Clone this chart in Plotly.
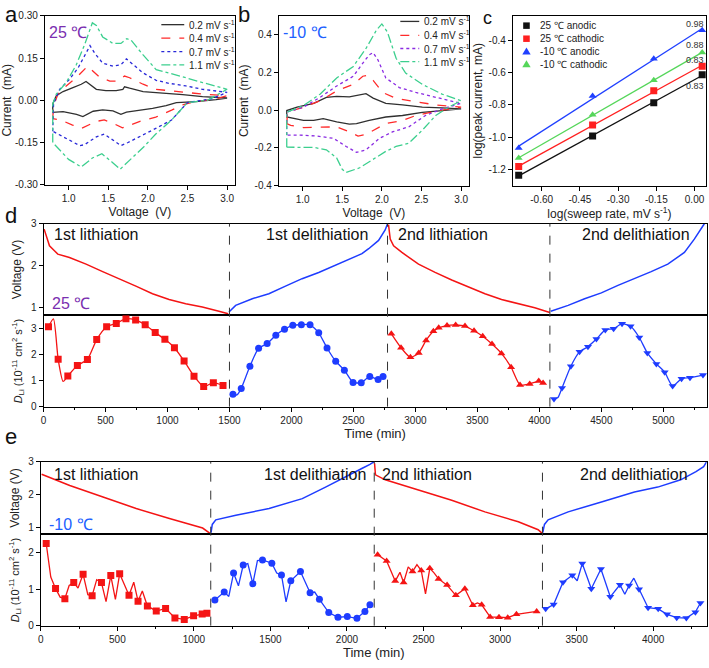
import numpy as np
import plotly.graph_objects as go

W, H = 709, 668
FONT = "Arial, 'Liberation Sans', sans-serif"

# ---------------- Panel a : CV at 25 C ----------------
a_V_02 = [0.80, 0.80, 0.845, 0.93, 1.055, 1.16, 1.22, 1.27, 1.35, 1.47, 1.60, 1.685, 1.706, 1.77, 1.94, 2.105, 2.27, 2.44, 2.69, 3.0,
          2.86, 2.61, 2.36, 2.23, 2.06, 1.85, 1.73, 1.66, 1.56, 1.43, 1.31, 1.18, 1.10, 0.93, 0.80, 0.80]
a_I_02 = [-0.036, -0.013, 0.016, 0.031, 0.045, 0.057, 0.067, 0.057, 0.039, 0.034, 0.034, 0.039, 0.048, 0.043, 0.031, 0.027, 0.024, 0.020, 0.013, 0.008,
          0.002, -0.005, -0.008, -0.019, -0.029, -0.038, -0.042, -0.050, -0.038, -0.034, -0.039, -0.058, -0.050, -0.040, -0.043, -0.036]
a_V_04 = [0.80, 0.81, 0.866, 0.97, 1.097, 1.20, 1.24, 1.286, 1.39, 1.52, 1.62, 1.706, 1.77, 1.94, 2.105, 2.27, 2.48, 2.69, 3.0,
          2.86, 2.60, 2.45, 2.30, 2.10, 1.90, 1.75, 1.68, 1.55, 1.45, 1.35, 1.22, 1.16, 1.05, 0.90, 0.80, 0.80]
a_I_04 = [-0.065, -0.019, 0.022, 0.051, 0.080, 0.109, 0.121, 0.109, 0.082, 0.068, 0.068, 0.086, 0.080, 0.057, 0.039, 0.034, 0.028, 0.022, 0.016,
          0.005, -0.005, -0.015, -0.035, -0.060, -0.075, -0.090, -0.098, -0.080, -0.070, -0.075, -0.094, -0.100, -0.088, -0.070, -0.065, -0.065]
a_V_07 = [0.80, 0.81, 0.887, 1.01, 1.12, 1.20, 1.27, 1.33, 1.43, 1.56, 1.66, 1.73, 1.79, 1.94, 2.105, 2.27, 2.48, 2.69, 3.0,
          2.80, 2.50, 2.30, 2.10, 1.90, 1.75, 1.66, 1.55, 1.45, 1.35, 1.20, 1.14, 1.00, 0.80, 0.80]
a_I_07 = [-0.110, -0.013, 0.039, 0.074, 0.115, 0.155, 0.194, 0.167, 0.132, 0.121, 0.126, 0.147, 0.132, 0.097, 0.071, 0.060, 0.051, 0.039, 0.028,
          0.005, -0.008, -0.070, -0.100, -0.130, -0.150, -0.161, -0.140, -0.120, -0.130, -0.158, -0.161, -0.140, -0.110, -0.110]
a_V_11 = [0.80, 0.80, 0.845, 0.97, 1.097, 1.20, 1.30, 1.35, 1.43, 1.56, 1.66, 1.735, 1.79, 1.94, 2.105, 2.27, 2.48, 2.69, 3.0,
          2.75, 2.50, 2.30, 2.10, 1.95, 1.80, 1.65, 1.55, 1.42, 1.30, 1.16, 1.00, 0.80, 0.80]
a_I_11 = [-0.150, -0.013, 0.022, 0.063, 0.126, 0.196, 0.275, 0.266, 0.225, 0.202, 0.202, 0.219, 0.213, 0.161, 0.109, 0.097, 0.080, 0.063, 0.039,
          0.000, -0.008, -0.070, -0.120, -0.165, -0.205, -0.245, -0.220, -0.190, -0.205, -0.237, -0.210, -0.150, -0.150]

# ---------------- Panel b : CV at -10 C ----------------
b_V_02 = [0.80, 0.80, 0.93, 1.14, 1.30, 1.43, 1.59, 1.72, 1.80, 1.89, 2.05, 2.26, 2.51, 2.76, 3.0,
          2.76, 2.51, 2.26, 2.05, 1.84, 1.68, 1.59, 1.43, 1.26, 1.14, 1.01, 0.89, 0.80, 0.80]
b_I_02 = [-0.019, -0.002, 0.016, 0.036, 0.068, 0.073, 0.071, 0.081, 0.088, 0.064, 0.036, 0.028, 0.016, 0.012, 0.007,
          -0.002, -0.012, -0.028, -0.036, -0.054, -0.071, -0.074, -0.062, -0.045, -0.054, -0.054, -0.045, -0.036, -0.019]
b_V_04 = [0.80, 0.81, 1.01, 1.22, 1.43, 1.64, 1.76, 1.82, 1.89, 2.01, 2.18, 2.38, 2.68, 3.0,
          2.68, 2.43, 2.26, 2.05, 1.93, 1.80, 1.70, 1.59, 1.43, 1.22, 1.01, 0.85, 0.80]
b_I_04 = [-0.071, -0.010, 0.016, 0.050, 0.102, 0.137, 0.180, 0.185, 0.158, 0.094, 0.062, 0.050, 0.028, 0.016,
          -0.005, -0.028, -0.054, -0.071, -0.097, -0.128, -0.137, -0.114, -0.088, -0.092, -0.092, -0.080, -0.071]
b_V_07 = [0.80, 0.80, 1.01, 1.22, 1.43, 1.64, 1.76, 1.84, 1.89, 1.95, 2.05, 2.22, 2.43, 2.68, 3.0,
          2.76, 2.55, 2.34, 2.14, 1.97, 1.80, 1.68, 1.55, 1.39, 1.18, 0.97, 0.80]
b_I_07 = [-0.132, -0.010, 0.016, 0.068, 0.128, 0.180, 0.249, 0.293, 0.305, 0.267, 0.171, 0.120, 0.094, 0.068, 0.036,
          0.007, -0.028, -0.088, -0.114, -0.149, -0.210, -0.223, -0.192, -0.149, -0.137, -0.132, -0.132]
b_V_11 = [0.80, 0.80, 1.01, 1.22, 1.43, 1.64, 1.80, 1.93, 2.00, 2.07, 2.18, 2.30, 2.51, 2.76, 3.0,
          2.84, 2.68, 2.51, 2.34, 2.18, 2.05, 1.89, 1.72, 1.55, 1.50, 1.43, 1.30, 1.14, 0.80]
b_I_11 = [-0.196, -0.010, 0.024, 0.085, 0.171, 0.232, 0.327, 0.423, 0.457, 0.414, 0.275, 0.197, 0.137, 0.085, 0.050,
          0.016, -0.028, -0.106, -0.175, -0.192, -0.218, -0.262, -0.305, -0.330, -0.313, -0.253, -0.210, -0.197, -0.196]

cv_names = ["0.2 mV s<sup>-1</sup>", "0.4 mV s<sup>-1</sup>", "0.7 mV s<sup>-1</sup>", "1.1 mV s<sup>-1</sup>"]

# ---------------- Panel c : log(peak current) vs log(sweep rate) ----------------
c_logv = [-0.69, -0.40, -0.16, 0.03]
c_25_anodic = [-1.236, -0.992, -0.788, -0.614]
c_25_cathodic = [-1.182, -0.925, -0.713, -0.562]
c_m10_anodic = [-1.067, -0.745, -0.515, -0.339]
c_m10_cathodic = [-1.129, -0.861, -0.648, -0.477]
c_names = ["25 \u2103 anodic", "25 \u2103 cathodic", "-10 \u2103 anodic", "-10 \u2103 cathodic"]
c_bvalues = ["0.83", "0.83", "0.98", "0.88"]

# ---------------- Panel d : GITT at 25 C ----------------
d_V_lith1_t = [5, 30, 48, 88, 115, 209, 343, 477, 611, 745, 879, 1013, 1147, 1281, 1415, 1490]
d_V_lith1 = [2.87, 2.63, 2.47, 2.35, 2.27, 2.19, 2.03, 1.85, 1.68, 1.50, 1.32, 1.18, 1.08, 1.00, 0.90, 0.84]
d_V_delith1_t = [1496, 1550, 1684, 1818, 1952, 2086, 2220, 2354, 2488, 2569, 2623, 2703, 2756, 2775]
d_V_delith1 = [0.88, 1.04, 1.20, 1.32, 1.50, 1.68, 1.83, 2.00, 2.17, 2.28, 2.40, 2.60, 2.85, 3.0]
d_V_lith2_t = [2783, 2797, 2824, 2891, 3025, 3159, 3293, 3427, 3561, 3695, 3830, 3963, 4084]
d_V_lith2 = [2.98, 2.63, 2.47, 2.31, 2.03, 1.83, 1.65, 1.48, 1.32, 1.18, 1.08, 0.98, 0.87]
d_V_delith2_t = [4092, 4232, 4365, 4500, 4634, 4768, 4902, 5036, 5170, 5250, 5304, 5331]
d_V_delith2 = [0.90, 1.04, 1.20, 1.34, 1.52, 1.68, 1.85, 2.03, 2.31, 2.63, 2.87, 3.0]

d_D_lith1_t = [40, 80, 118, 158, 196, 273, 354, 429, 509, 587, 665, 743, 820, 901, 979, 1056, 1134, 1214, 1292, 1370, 1448]
d_D_lith1 = [3.06, 3.36, 1.82, 0.97, 1.18, 1.58, 1.81, 2.57, 3.06, 3.19, 3.37, 3.32, 3.14, 2.84, 2.58, 2.26, 1.75, 1.17, 0.77, 0.92, 0.81]
d_D_lith1_mark = [1, 0, 1, 0, 1, 1, 1, 1, 1, 1, 1, 1, 1, 1, 1, 1, 1, 1, 1, 1, 1]
d_D_delith1_t = [1528, 1560, 1595, 1665, 1735, 1804, 1874, 1944, 2011, 2080, 2150, 2220, 2287, 2357, 2427, 2497, 2563, 2632, 2699, 2739]
d_D_delith1 = [0.48, 0.45, 0.70, 1.55, 2.24, 2.42, 2.74, 2.97, 3.12, 3.14, 3.14, 2.83, 2.25, 1.74, 1.40, 0.93, 0.92, 1.16, 1.04, 1.16]
d_D_delith1_mark = [1, 0, 1, 1, 1, 1, 1, 1, 1, 1, 1, 1, 1, 1, 1, 1, 1, 1, 1, 1]
d_D_lith2_t = [2806, 2884, 2960, 3027, 3086, 3145, 3188, 3255, 3325, 3400, 3473, 3543, 3618, 3694, 3772, 3844, 3922, 3995, 4030]
d_D_lith2 = [2.79, 2.26, 1.89, 2.06, 2.54, 2.89, 3.02, 3.11, 3.13, 3.09, 2.91, 2.70, 2.40, 2.04, 1.51, 0.83, 0.87, 0.98, 0.91]
d_D_lith2_mark = [1] * 19
d_D_delith2_t = [4118, 4150, 4183, 4254, 4324, 4392, 4460, 4532, 4599, 4667, 4736, 4806, 4871, 4944, 5011, 5075, 5147, 5215, 5320]
d_D_delith2 = [0.29, 0.35, 0.72, 1.55, 2.10, 2.30, 2.59, 2.94, 2.99, 3.18, 3.08, 2.65, 2.06, 1.64, 1.32, 0.79, 1.07, 1.11, 1.21]
d_D_delith2_mark = [1, 0, 1, 1, 1, 1, 1, 1, 1, 1, 1, 1, 1, 1, 1, 1, 1, 1, 1]
d_bounds = [1500, 2775, 4085]

# ---------------- Panel e : GITT at -10 C ----------------
e_V_lith1_t = [5, 189, 406, 623, 840, 948, 1057, 1105]
e_V_lith1 = [2.62, 2.28, 1.93, 1.58, 1.28, 1.13, 0.99, 0.83]
e_V_delith1_t = [1112, 1120, 1143, 1274, 1491, 1708, 1860, 2000, 2100, 2150, 2178]
e_V_delith1 = [0.85, 1.10, 1.24, 1.38, 1.58, 1.88, 2.23, 2.55, 2.80, 2.92, 3.0]
e_V_lith2_t = [2180, 2186, 2250, 2300, 2403, 2684, 2901, 3119, 3249, 3275]
e_V_lith2 = [2.95, 2.60, 2.45, 2.38, 2.23, 1.83, 1.48, 1.18, 0.94, 0.83]
e_V_delith2_t = [3279, 3290, 3314, 3445, 3662, 3878, 4030, 4180, 4280, 4330, 4350]
e_V_delith2 = [0.85, 1.10, 1.24, 1.48, 1.78, 2.08, 2.23, 2.45, 2.70, 2.85, 3.0]

e_D_lith1_t = [35, 65, 96, 126, 157, 185, 215, 243, 276, 307, 335, 365, 396, 426, 457, 487, 515, 576, 607, 635,
               663, 696, 754, 815, 876, 937, 998, 1054, 1085]
e_D_lith1 = [2.25, 1.33, 1.02, 0.78, 0.74, 1.10, 1.18, 1.03, 1.41, 0.85, 0.82, 1.26, 1.18, 0.66, 1.37, 0.72, 1.42, 0.83, 1.19, 0.67,
             0.95, 0.54, 0.40, 0.47, 0.21, 0.17, 0.27, 0.32, 0.34]
e_D_lith1_mark = [1, 0, 1, 0, 1, 0, 1, 0, 1, 0, 1, 0, 1, 0, 1, 0, 1, 1, 0, 1, 0, 1, 1, 1, 1, 1, 1, 1, 1]
e_D_delith1_t = [1137, 1198, 1228, 1259, 1291, 1322, 1352, 1385, 1415, 1448, 1509, 1541, 1572, 1602, 1633, 1696, 1759, 1789, 1820, 1881,
                 1941, 2002, 2065, 2117, 2150]
e_D_delith1 = [0.70, 0.92, 0.80, 1.44, 1.09, 1.66, 1.70, 1.15, 1.78, 1.80, 1.71, 1.44, 1.39, 0.65, 1.23, 1.48, 0.90, 0.92, 0.72, 0.36,
               0.23, 0.25, 0.20, 0.39, 0.57]
e_D_delith1_mark = [1, 1, 0, 1, 0, 1, 0, 1, 0, 1, 1, 0, 1, 0, 1, 1, 1, 0, 1, 1, 1, 1, 1, 1, 1]
e_D_lith2_t = [2200, 2259, 2315, 2346, 2370, 2400, 2428, 2457, 2485, 2513, 2541, 2570, 2598, 2654, 2711, 2770, 2822, 2852, 2880, 2935,
               2993, 3050, 3107, 3239]
e_D_lith2 = [1.94, 1.77, 1.22, 1.46, 1.18, 1.61, 1.48, 1.67, 1.51, 0.87, 1.57, 1.44, 1.28, 1.11, 0.83, 1.01, 0.56, 0.62, 0.57, 0.24,
             0.23, 0.22, 0.31, 0.39]
e_D_lith2_mark = [1, 1, 1, 0, 1, 0, 1, 0, 1, 0, 1, 0, 1, 1, 1, 1, 1, 0, 1, 1, 1, 1, 1, 1]
e_D_delith2_t = [3298, 3350, 3411, 3472, 3504, 3537, 3596, 3659, 3720, 3783, 3815, 3843, 3874, 3908, 3967, 4033, 4091, 4154, 4217, 4276, 4309]
e_D_delith2 = [0.46, 0.58, 1.19, 1.38, 1.23, 1.70, 1.01, 1.55, 0.79, 1.12, 0.86, 1.10, 1.30, 1.00, 0.49, 0.46, 0.31, 0.22, 0.21, 0.37, 0.62]
e_D_delith2_mark = [1, 1, 1, 1, 0, 1, 1, 1, 1, 1, 0, 1, 0, 1, 1, 1, 1, 1, 1, 1, 1]
e_bounds = [1110, 2178, 3277]

# ---------------- styling ----------------
RED = "#f41414"
BLUE = "#1e3cff"
BLACK = "#303030"
PURPLE_T = "#7a2fb0"
CV_A_COLORS = [BLACK, "#ff2a2a", "#2828d8", "#3ccf8e"]
CV_B_COLORS = [BLACK, "#ff2a2a", "#8a2be2", "#3ccf8e"]
CV_DASH = ["solid", "dash", "dot", "dashdot"]
C_COLORS = ["#111111", "#ff2020", "#2040ff", "#55d65a"]
C_SYMBOLS = ["square", "square", "triangle-up", "triangle-up"]


def xdom(x0, x1):
    return [x0 / W, x1 / W]


def ydom(y0, y1):
    return [1 - y1 / H, 1 - y0 / H]


fig = go.Figure()

for V, I, col, dash in zip([a_V_02, a_V_04, a_V_07, a_V_11], [a_I_02, a_I_04, a_I_07, a_I_11], CV_A_COLORS, CV_DASH):
    fig.add_trace(go.Scatter(x=V, y=I, mode="lines", showlegend=False,
                             line=dict(color=col, width=1.3, dash=dash), xaxis="x", yaxis="y"))
for V, I, col, dash in zip([b_V_02, b_V_04, b_V_07, b_V_11], [b_I_02, b_I_04, b_I_07, b_I_11], CV_B_COLORS, CV_DASH):
    fig.add_trace(go.Scatter(x=V, y=I, mode="lines", showlegend=False,
                             line=dict(color=col, width=1.3, dash=dash), xaxis="x2", yaxis="y2"))

c_series = [c_25_anodic, c_25_cathodic, c_m10_anodic, c_m10_cathodic]
for ys, col, sym in zip(c_series, C_COLORS, C_SYMBOLS):
    k, b = np.polyfit(c_logv, ys, 1)
    xs = np.array([min(c_logv), max(c_logv)])
    fig.add_trace(go.Scatter(x=xs, y=k * xs + b, mode="lines", line=dict(color=col, width=1.3),
                             showlegend=False, xaxis="x3", yaxis="y3"))
    fig.add_trace(go.Scatter(x=c_logv, y=ys, mode="markers", showlegend=False,
                             marker=dict(color=col, symbol=sym, size=7), xaxis="x3", yaxis="y3"))


def add_D(t, D, mark, col, sym, xa, ya, shape):
    fig.add_trace(go.Scatter(x=t, y=D, mode="lines", line=dict(color=col, width=1.3, shape=shape, smoothing=0.6),
                             showlegend=False, xaxis=xa, yaxis=ya))
    mt = [tt for tt, m in zip(t, mark) if m]
    mD = [dd for dd, m in zip(D, mark) if m]
    fig.add_trace(go.Scatter(x=mt, y=mD, mode="markers", marker=dict(color=col, symbol=sym, size=7),
                             showlegend=False, xaxis=xa, yaxis=ya))


def add_V(t, V, col, xa, ya):
    fig.add_trace(go.Scatter(x=t, y=V, mode="lines", line=dict(color=col, width=1.5),
                             showlegend=False, xaxis=xa, yaxis=ya))


add_V(d_V_lith1_t, d_V_lith1, RED, "x4", "y4")
add_V(d_V_delith1_t, d_V_delith1, BLUE, "x4", "y4")
add_V(d_V_lith2_t, d_V_lith2, RED, "x4", "y4")
add_V(d_V_delith2_t, d_V_delith2, BLUE, "x4", "y4")
add_D(d_D_lith1_t, d_D_lith1, d_D_lith1_mark, RED, "square", "x5", "y5", "spline")
add_D(d_D_delith1_t, d_D_delith1, d_D_delith1_mark, BLUE, "circle", "x5", "y5", "spline")
add_D(d_D_lith2_t, d_D_lith2, d_D_lith2_mark, RED, "triangle-up", "x5", "y5", "spline")
add_D(d_D_delith2_t, d_D_delith2, d_D_delith2_mark, BLUE, "triangle-down", "x5", "y5", "spline")

add_V(e_V_lith1_t, e_V_lith1, RED, "x6", "y6")
add_V(e_V_delith1_t, e_V_delith1, BLUE, "x6", "y6")
add_V(e_V_lith2_t, e_V_lith2, RED, "x6", "y6")
add_V(e_V_delith2_t, e_V_delith2, BLUE, "x6", "y6")
add_D(e_D_lith1_t, e_D_lith1, e_D_lith1_mark, RED, "square", "x7", "y7", "linear")
add_D(e_D_delith1_t, e_D_delith1, e_D_delith1_mark, BLUE, "circle", "x7", "y7", "linear")
add_D(e_D_lith2_t, e_D_lith2, e_D_lith2_mark, RED, "triangle-up", "x7", "y7", "linear")
add_D(e_D_delith2_t, e_D_delith2, e_D_delith2_mark, BLUE, "triangle-down", "x7", "y7", "linear")


def axis(**kw):
    base = dict(showline=True, linecolor="black", linewidth=1, mirror=True, ticks="outside", ticklen=4,
                tickwidth=1, tickcolor="black", showgrid=False, zeroline=False,
                tickfont=dict(size=10, color="#222", family=FONT),
                title_font=dict(size=12, color="#222", family=FONT))
    base.update(kw)
    return base


D_TITLE = "<i>D</i><sub>Li</sub> (10<sup>-11</sup> cm<sup>2</sup> s<sup>-1</sup>)"

layout = dict(
    width=W, height=H, margin=dict(l=0, r=0, t=0, b=0),
    paper_bgcolor="white", plot_bgcolor="white", showlegend=False,
    font=dict(family=FONT, color="#222"),
    xaxis=axis(domain=xdom(42, 233), anchor="y", range=[0.7, 3.1], tickvals=[1.0, 1.5, 2.0, 2.5, 3.0],
               ticktext=["1.0", "1.5", "2.0", "2.5", "3.0"], title=dict(text="Voltage  (V)", standoff=4)),
    yaxis=axis(domain=ydom(10, 182), anchor="x", range=[-0.3, 0.3], tickvals=[-0.3, -0.15, 0, 0.15, 0.3],
               ticktext=["-0.30", "-0.15", "0.00", "0.15", "0.30"], title=dict(text="Current  (mA)", standoff=3)),
    xaxis2=axis(domain=xdom(277, 468), anchor="y2", range=[0.7, 3.1], tickvals=[1.0, 1.5, 2.0, 2.5, 3.0],
                ticktext=["1.0", "1.5", "2.0", "2.5", "3.0"], title=dict(text="Voltage  (V)", standoff=4)),
    yaxis2=axis(domain=ydom(10, 183), anchor="x2", range=[-0.4, 0.5], tickvals=[-0.4, -0.2, 0, 0.2, 0.4],
                ticktext=["-0.4", "-0.2", "0.0", "0.2", "0.4"], title=dict(text="Current  (mA)", standoff=3)),
    xaxis3=axis(domain=xdom(512, 706), anchor="y3", range=[-0.713, 0.045], tickvals=[-0.6, -0.45, -0.3, -0.15, 0],
                ticktext=["-0.60", "-0.45", "-0.30", "-0.15", "0.00"],
                title=dict(text="log(sweep rate, mV s<sup>-1</sup>)", standoff=4)),
    yaxis3=axis(domain=ydom(10, 183), anchor="x3", range=[-1.3, -0.25], tickvals=[-1.2, -1.0, -0.8, -0.6, -0.4],
                ticktext=["-1.2", "-1.0", "-0.8", "-0.6", "-0.4"],
                title=dict(text="log(peak current, mA)", standoff=3)),
    xaxis4=axis(domain=xdom(40.7, 706.7), anchor="y4", range=[0, 5350], matches="x5", showticklabels=False, ticks=""),
    yaxis4=axis(domain=ydom(221.7, 315), anchor="x4", range=[0.8, 3.0], tickvals=[1, 2, 3],
                title=dict(text="Voltage (V)", standoff=6)),
    xaxis5=axis(domain=xdom(40.7, 706.7), anchor="y5", range=[0, 5350], dtick=500,
                minor=dict(dtick=250, ticklen=2, ticks="outside", tickcolor="black"),
                title=dict(text="Time (min)", standoff=3, font=dict(size=13))),
    yaxis5=axis(domain=ydom(315, 408), anchor="x5", range=[0, 3.5], tickvals=[0, 1, 2, 3],
                title=dict(text=D_TITLE, standoff=6, font=dict(size=11))),
    xaxis6=axis(domain=xdom(38, 706.7), anchor="y6", range=[0, 4350], matches="x7", showticklabels=False, ticks=""),
    yaxis6=axis(domain=ydom(464, 538), anchor="x6", range=[0.8, 3.0], tickvals=[1, 2, 3],
                title=dict(text="Voltage (V)", standoff=6)),
    xaxis7=axis(domain=xdom(38, 706.7), anchor="y7", range=[0, 4350], dtick=500,
                minor=dict(dtick=250, ticklen=2, ticks="outside", tickcolor="black"),
                title=dict(text="Time (min)", standoff=3, font=dict(size=13))),
    yaxis7=axis(domain=ydom(538, 631), anchor="x7", range=[0, 2.5], tickvals=[0, 1, 2],
                title=dict(text=D_TITLE, standoff=6, font=dict(size=11))),
)
fig.update_layout(**layout)


def px(x, y):
    return x / W, 1 - y / H


shapes = []
for t in d_bounds:
    shapes.append(dict(type="line", xref="x5", yref="paper", x0=t, x1=t, y0=1 - 408 / H, y1=1 - 221.7 / H,
                       line=dict(color="#333", width=1, dash="dash")))
for t in e_bounds:
    shapes.append(dict(type="line", xref="x7", yref="paper", x0=t, x1=t, y0=1 - 631 / H, y1=1 - 464 / H,
                       line=dict(color="#333", width=1, dash="dash")))


def ann(text, x, y, size, color="#111", xanchor="left", yanchor="middle"):
    fig.add_annotation(text=text, x=x / W, y=1 - y / H, xref="paper", yref="paper", showarrow=False,
                       xanchor=xanchor, yanchor=yanchor, font=dict(size=size, color=color, family=FONT))


# legend keys drawn as layout shapes (compact spacing like the original)
def legend_lines(x0, x1, ys, colors, dashes, names):
    for y, col, dash, nm in zip(ys, colors, dashes, names):
        a0, b0 = px(x0, y)
        a1, _ = px(x1, y)
        shapes.append(dict(type="line", xref="paper", yref="paper", x0=a0, x1=a1, y0=b0, y1=b0,
                           line=dict(color=col, width=1.3, dash=dash)))
        ann(nm, x1 + 3, y, 10, "#222")


legend_lines(159, 182, [19, 32.7, 46.5, 60], CV_A_COLORS, CV_DASH, cv_names)
legend_lines(399, 418, [15.7, 30, 43.3, 56.7], CV_B_COLORS, CV_DASH, cv_names)

for y, col, sym, nm in zip([20, 33.3, 46.3, 59.3], C_COLORS, C_SYMBOLS, c_names):
    cx, s = 525.7, 3.3
    if sym == "square":
        x0, y0 = px(cx - s, y + s)
        x1, y1 = px(cx + s, y - s)
        shapes.append(dict(type="rect", xref="paper", yref="paper", x0=x0, x1=x1, y0=y0, y1=y1,
                           fillcolor=col, line=dict(width=0)))
    else:
        p1 = px(cx, y - 4)
        p2 = px(cx - 4.2, y + 3)
        p3 = px(cx + 4.2, y + 3)
        path = "M %f %f L %f %f L %f %f Z" % (p1[0], p1[1], p2[0], p2[1], p3[0], p3[1])
        shapes.append(dict(type="path", xref="paper", yref="paper", path=path, fillcolor=col, line=dict(width=0)))
    ann(nm, 537, y, 10, "#222")

fig.update_layout(shapes=shapes)

ann("a", 0, 9, 22)
ann("b", 234, 9, 22)
ann("c", 480, 12, 18)
ann("d", 0, 213, 22)
ann("e", 0, 438, 22)
ann("25 \u2103", 44, 27, 16, PURPLE_T)
ann("-10 \u2103", 279, 27, 16, "#2060ff")
ann("25 \u2103", 47, 303, 16, PURPLE_T)
ann("-10 \u2103", 44, 528, 16, "#2060ff")
ann("1st lithiation", 49, 233, 16)
ann("1st delithiation", 369, 233, 16, xanchor="right")
ann("2nd lithiation", 395, 233, 16)
ann("2nd delithiation", 692, 233, 16, xanchor="right")
ann("1st lithiation", 49, 477, 16)
ann("1st delithiation", 367, 477, 16, xanchor="right")
ann("2nd lithiation", 379, 477, 16)
ann("2nd delithiation", 690, 477, 16, xanchor="right")

shifts = [-11, 6, 6, 8]
for ys, lab, sh in zip(c_series, c_bvalues, shifts):
    fig.add_annotation(text=lab, x=c_logv[-1], y=ys[-1], xref="x3", yref="y3", showarrow=False,
                       xshift=-7, yshift=sh, font=dict(size=9, color="#333", family=FONT))

fig.write_html("out.html", config={"displayModeBar": False, "staticPlot": True},
               post_script="document.body.style.margin='0';document.body.style.overflow='hidden';")
